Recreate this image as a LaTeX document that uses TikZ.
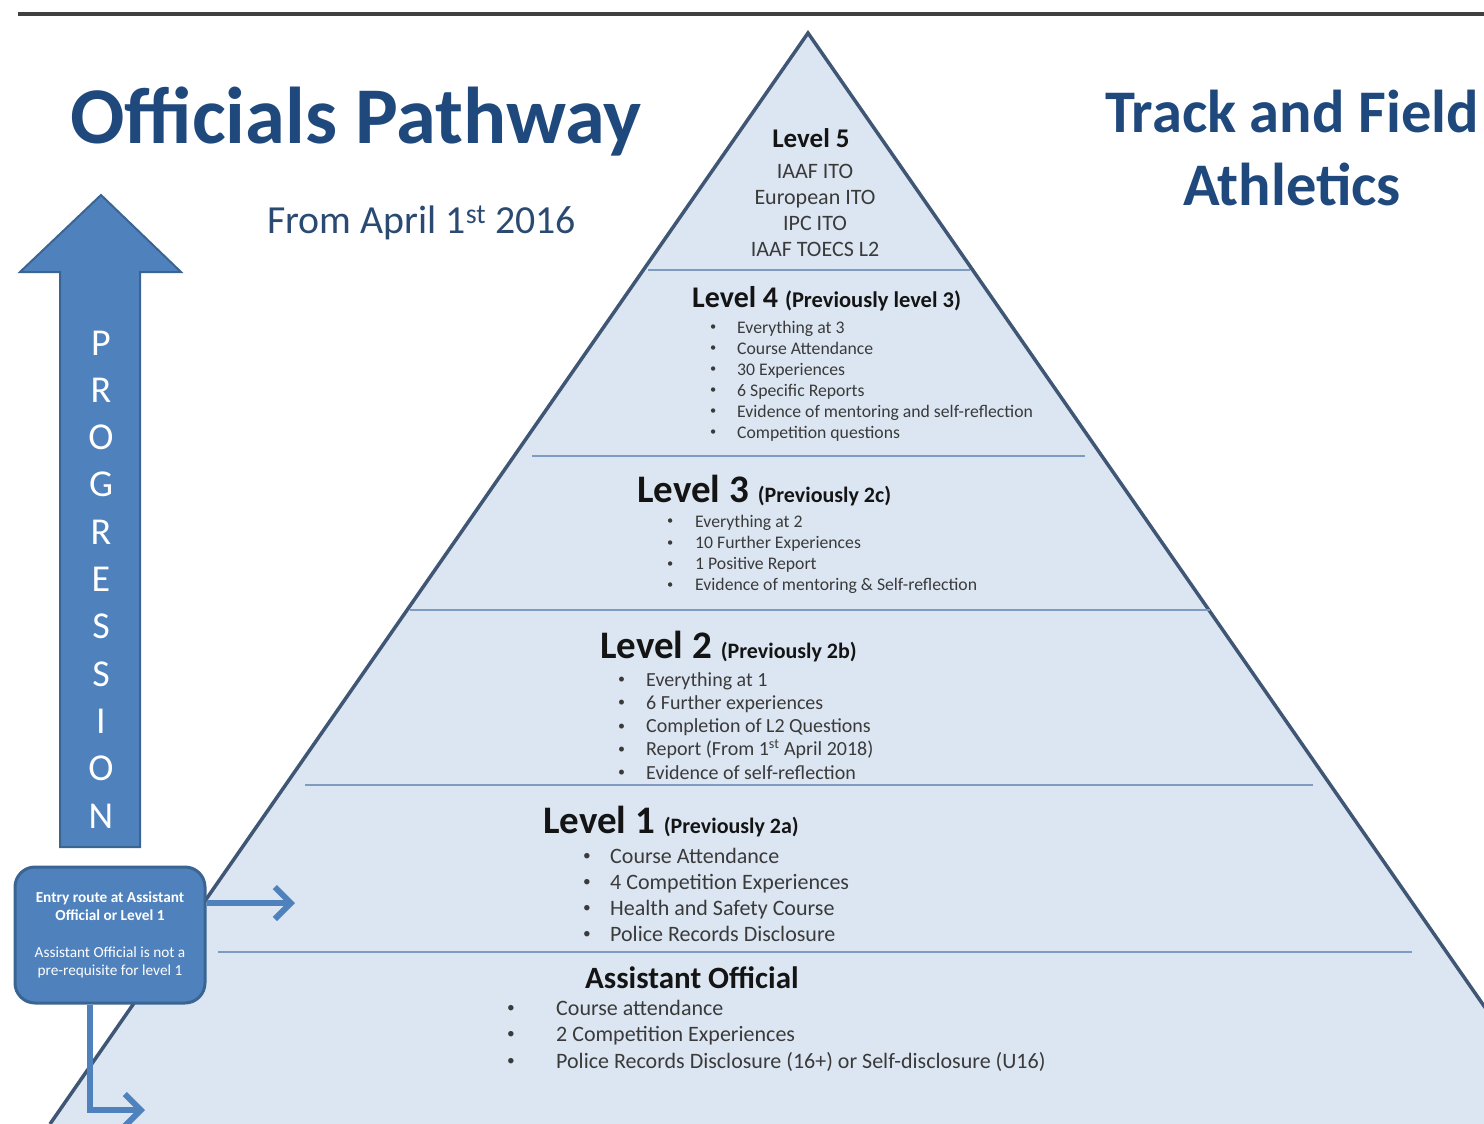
\documentclass[tikz,border=0pt]{standalone}
\usepackage{fontspec}
\setmainfont{Carlito}
\usetikzlibrary{positioning,arrows.meta}

\definecolor{titleblue}{HTML}{1F497D}
\definecolor{subblue}{HTML}{2B4A72}
\definecolor{pyrfill}{HTML}{DCE6F2}
\definecolor{pyredge}{HTML}{3F5674}
\definecolor{divline}{HTML}{7E9BC0}
\definecolor{boxblue}{HTML}{4F81BD}
\definecolor{boxedge}{HTML}{3A6593}
\definecolor{itemgray}{HTML}{3A3A3A}
\definecolor{rulegray}{HTML}{404040}

\newcommand\fsz[2]{\fontsize{#1}{#2}\selectfont}
\newcommand\itm[1]{\makebox[#1pt][l]{\raisebox{.12em}{\scalebox{.7}{\textbullet}}}}

\begin{document}
\begin{tikzpicture}[x=1pt,y=-1pt, line join=miter
  ]
% Text and block styles
\tikzstyle{head} = [anchor=base west,inner sep=0pt,text=black!92,font=\bfseries]
\tikzstyle{item} = [anchor=base west,inner sep=0pt,text=itemgray]
\tikzstyle{divider} = [draw=divline,line width=2.5pt]
\tikzstyle{entrybox} = [draw=boxedge,fill=boxblue,line width=3pt,rounded corners=20pt,minimum width=190pt,minimum height=136pt,inner sep=0pt,align=center,text=white,font=\fsz{15.3}{18}]
\tikzstyle{entryarrow} = [draw=boxblue,line width=6pt,-{Straight Barb[length=16pt,width=32pt]}]
\tikzstyle{progletter} = [anchor=base,inner sep=0pt,text=white,font=\fsz{38}{38}]

\useasboundingbox (0,0) rectangle (1484,1124);
\clip (0,0) rectangle (1484,1124);

% Top rule
\draw[rulegray,line width=4pt] (18,14) -- (1484,14);

% Pyramid
\coordinate (apex) at (808,33);
\fill[pyrfill] (apex) -- (50,1124) -- (1566,1124) -- cycle;
\draw[pyredge,line width=3.5pt] (50,1124) -- (apex) -- (1566,1124);

% Dividers
\draw[divider] (648,270) -- (970,270);
\draw[divider] (532,456) -- (1085,456);
\draw[divider] (410,610) -- (1210,610);
\draw[divider] (305,785) -- (1313,785);
\draw[divider] (218,952) -- (1412,952);

% Titles
\node[head,text=titleblue,font=\bfseries\fsz{80.5}{81}] (title) at (70,143) {Officials Pathway};
\node[item,text=subblue,font=\fsz{39.8}{40}] (since) at (267,233) {From April 1\textsuperscript{st} 2016};
\node[head,anchor=base,text=titleblue,font=\bfseries\fsz{60.5}{61}] (sport1) at (1292,132) {Track and Field};
\node[head,anchor=base,text=titleblue,font=\bfseries\fsz{60.5}{61}] (sport2) at (1292,205) {Athletics};

% Level 5
\node[head,anchor=base,font=\bfseries\fsz{27}{28}] (l5) at (811,147) {Level 5};
\foreach \txt [count=\i] in {IAAF ITO,European ITO,IPC ITO,IAAF TOECS L2}
\node[item,anchor=base,font=\fsz{22}{22}] (l5-\i) at (815,{178+26.3*(\i-1)}) {\txt};

% Level 4
\node[head] (l4) at (692,307) {{\fsz{30}{30}Level 4 }{\fsz{22.5}{22}(Previously level 3)}};
\foreach \txt [count=\i] in {Everything at 3,Course Attendance,30 Experiences,6 Specific Reports,Evidence of mentoring and self-reflection,Competition questions}
\node[item,font=\fsz{17.7}{21}] (l4-\i) at (710,{333+21*(\i-1)}) {\itm{27}\txt};

% Level 3
\node[head] (l3) at (637,502) {{\fsz{39}{39}Level 3 }{\fsz{22}{22}(Previously 2c)}};
\foreach \txt [count=\i] in {Everything at 2,10 Further Experiences,1 Positive Report,Evidence of mentoring \& Self-reflection}
\node[item,font=\fsz{17.7}{21}] (l3-\i) at (667,{527+21.3*(\i-1)}) {\itm{28}\txt};

% Level 2
\node[head] (l2) at (600,658) {{\fsz{39}{39}Level 2 }{\fsz{22}{22}(Previously 2b)}};
\foreach \txt [count=\i] in {Everything at 1,6 Further experiences,Completion of L2 Questions,{Report (From 1\textsuperscript{st} April 2018)},Evidence of self-reflection}
\node[item,font=\fsz{20}{23}] (l2-\i) at (618,{686+23.3*(\i-1)}) {\itm{28}\txt};

% Level 1
\node[head] (l1) at (543,833) {{\fsz{39}{39}Level 1 }{\fsz{22}{22}(Previously 2a)}};
\foreach \txt [count=\i] in {Course Attendance,4 Competition Experiences,Health and Safety Course,Police Records Disclosure}
\node[item,font=\fsz{22}{26}] (l1-\i) at (583,{863+26*(\i-1)}) {\itm{27}\txt};

% Assistant Official
\node[head,font=\bfseries\fsz{31}{31}] (ao) at (585,988) {Assistant Official};
\foreach \txt [count=\i] in {Course attendance,2 Competition Experiences,Police Records Disclosure (16+) or Self-disclosure (U16)}
\node[item,font=\fsz{22}{26}] (ao-\i) at (507,{1015+26.5*(\i-1)}) {\itm{49}\txt};

% Progression arrow
\draw[boxedge,fill=boxblue,line width=2pt] (101,195) -- (181,272) -- (140,272) -- (140,847) -- (60,847) -- (60,272) -- (20,272) -- cycle;
\foreach \ch [count=\i] in {P,R,O,G,R,E,S,S,I,O,N}
\node[progletter] (pl-\i) at (101,{355+47.3*(\i-1)}) {\ch};

% Entry box and arrows
\node[entrybox] (entry) at (110,935) {\textbf{Entry route at Assistant}\\\textbf{Official or Level 1}\\[19pt]Assistant Official is not a\\pre-requisite for level 1};
\coordinate (l1in) at (295,903);
\coordinate (aoin) at (145,1110);
\draw[entryarrow] (entry.east |- l1in) -- (l1in);
\draw[entryarrow] ([xshift=-20pt]entry.south) |- (aoin);
%---------------------
\end{tikzpicture}
\end{document}
